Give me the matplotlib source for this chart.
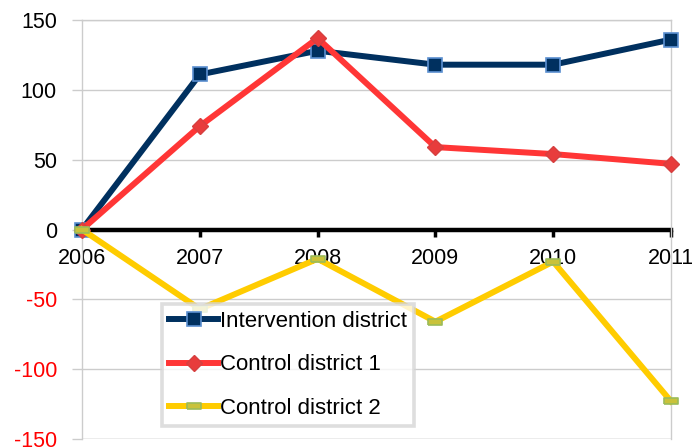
import matplotlib
matplotlib.use("Agg")
import matplotlib.pyplot as plt

years = ["2006", "2007", "2008", "2009", "2010", "2011"]
intervention = [0, 111, 128, 118, 118, 136]
control1 = [0, 74, 137, 59, 54, 47]
control2 = [0, -57, -21, -66, -23, -123]
yticks = [-150, -100, -50, 0, 50, 100, 150]

plt.rcParams['font.family'] = ['Liberation Sans', 'DejaVu Sans']
plt.rcParams['axes.unicode_minus'] = False

fig = plt.figure(figsize=(6.92, 4.48), dpi=100)
ax = fig.add_axes([82/692, 1-439/448, (671-82)/692, (439-20)/448])

x = list(range(len(years)))
rect = [(-1, -0.38), (1, -0.38), (1, 0.38), (-1, 0.38), (-1, -0.38)]

ax.plot(x, intervention, color='#00305f', lw=4.3, marker='s', ms=10,
        mfc='#00305f', mec='#5b8fd0', mew=1.2, label='Intervention district',
        zorder=3, clip_on=False)
ax.plot(x, control1, color='#ff3636', lw=4.3, marker='D', ms=8.5,
        mfc='#e83c3c', mec='#d64040', mew=1.0, label='Control district 1',
        zorder=4, clip_on=False)
ax.plot(x, control2, color='#ffcc00', lw=4.3, marker=rect, ms=10,
        mfc='#c9c23a', mec='#9bbb59', mew=1.2, label='Control district 2',
        zorder=5, clip_on=False)

ax.set_xlim(0, 5)
ax.set_ylim(-150, 150)
ax.set_yticks(yticks)
ax.set_yticklabels([str(v) for v in yticks])
for lab, v in zip(ax.get_yticklabels(), yticks):
    lab.set_color('red' if v < 0 else 'black')
ax.set_xticks(x)
ax.set_xticklabels(years)

ax.grid(axis='y', color='#cccccc', lw=1)
ax.set_axisbelow(True)
ax.axhline(-150, color='#cccccc', lw=1, zorder=1)

for s in ['left', 'right', 'top']:
    ax.spines[s].set_color('#cccccc')
    ax.spines[s].set_linewidth(1)
ax.spines['bottom'].set_position(('data', 0))
ax.spines['bottom'].set_color('black')
ax.spines['bottom'].set_linewidth(3.2)
ax.spines['bottom'].set_zorder(2)

ax.tick_params(axis='y', length=7, width=1, color='#cccccc', labelsize=15.5, pad=11)
ax.tick_params(axis='x', length=5, width=2.5, color='black', direction='out',
               labelsize=15.5, pad=8)

leg = ax.legend(loc='upper left', bbox_to_anchor=(162/692, 1-304/448),
                bbox_transform=fig.transFigure, frameon=True, fancybox=False,
                prop={'size': 16},
                handlelength=2.2, handletextpad=0.08, labelspacing=1.0,
                borderpad=0.32, borderaxespad=0)
leg.get_frame().set_edgecolor('#d6d6d6')
leg.get_frame().set_linewidth(2.6)
leg.set_zorder(10)

fig.savefig('out.png', dpi=100)
